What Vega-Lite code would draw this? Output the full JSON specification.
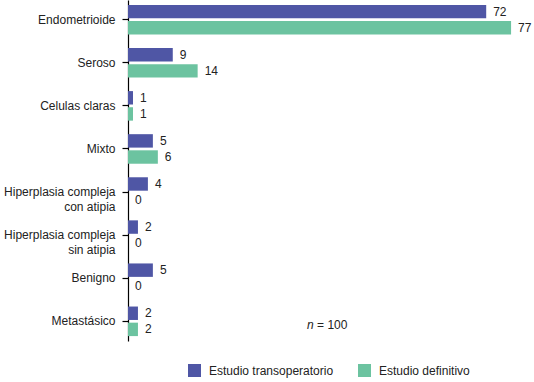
{
  "$schema": "https://vega.github.io/schema/vega-lite/v6.json",
  "width": 398,
  "height": 341,
  "autosize": {"type": "none"},
  "padding": {"left": 128, "top": 0, "right": 8, "bottom": 41},
  "background": "white",
  "config": {
    "view": {"stroke": null},
    "font": "Liberation Sans",
    "text": {"font": "Liberation Sans"}
  },
  "datasets": {
    "main": [
      {"tipo": "Endometrioide", "estudio": "Estudio transoperatorio", "n": 72},
      {"tipo": "Endometrioide", "estudio": "Estudio definitivo", "n": 77},
      {"tipo": "Seroso", "estudio": "Estudio transoperatorio", "n": 9},
      {"tipo": "Seroso", "estudio": "Estudio definitivo", "n": 14},
      {"tipo": "Celulas claras", "estudio": "Estudio transoperatorio", "n": 1},
      {"tipo": "Celulas claras", "estudio": "Estudio definitivo", "n": 1},
      {"tipo": "Mixto", "estudio": "Estudio transoperatorio", "n": 5},
      {"tipo": "Mixto", "estudio": "Estudio definitivo", "n": 6},
      {"tipo": "Hiperplasia compleja con atipia", "estudio": "Estudio transoperatorio", "n": 4},
      {"tipo": "Hiperplasia compleja con atipia", "estudio": "Estudio definitivo", "n": 0},
      {"tipo": "Hiperplasia compleja sin atipia", "estudio": "Estudio transoperatorio", "n": 2},
      {"tipo": "Hiperplasia compleja sin atipia", "estudio": "Estudio definitivo", "n": 0},
      {"tipo": "Benigno", "estudio": "Estudio transoperatorio", "n": 5},
      {"tipo": "Benigno", "estudio": "Estudio definitivo", "n": 0},
      {"tipo": "Metastásico", "estudio": "Estudio transoperatorio", "n": 2},
      {"tipo": "Metastásico", "estudio": "Estudio definitivo", "n": 2}
    ],
    "note": [{"tipo": "Metastásico", "x": 36, "a": "n", "b": "= 100"}]
  },
  "layer": [
    {
      "data": {"name": "main"},
      "mark": {"type": "bar"},
      "encoding": {
        "y": {
          "field": "tipo", "type": "nominal",
          "scale": {"domain": ["Endometrioide", "Seroso", "Celulas claras", "Mixto", "Hiperplasia compleja con atipia", "Hiperplasia compleja sin atipia", "Benigno", "Metastásico"], "paddingInner": 0.314, "paddingOuter": 0.114},
          "axis": {
            "title": null,
            "domainColor": "#000000", "domainWidth": 1.2,
            "tickColor": "#000000", "tickSize": 6, "tickWidth": 1.2,
            "labelPadding": 7, "labelFontSize": 12, "labelColor": "#222222",
            "labelFont": "Liberation Sans", "labelLineHeight": 15,
            "labelExpr": "indexof(datum.label, 'compleja ') > 0 ? ['Hiperplasia compleja', substring(datum.label, 21)] : datum.label"
          }
        },
        "yOffset": {"field": "estudio", "sort": ["Estudio transoperatorio", "Estudio definitivo"], "scale": {"paddingInner": 0.167}},
        "x": {"field": "n", "type": "quantitative", "scale": {"domain": [0, 80]}, "axis": null},
        "color": {
          "field": "estudio", "type": "nominal",
          "scale": {"domain": ["Estudio transoperatorio", "Estudio definitivo"], "range": ["#4f56a5", "#6cc3a0"]},
          "legend": {
            "title": null, "orient": "none", "legendX": 60, "legendY": 364,
            "direction": "horizontal", "symbolType": "square", "symbolSize": 169,
            "symbolStrokeWidth": 0, "labelFontSize": 12, "labelOffset": 8,
            "columnPadding": 24, "padding": 0, "labelColor": "#222222", "labelFont": "Liberation Sans"
          }
        }
      }
    },
    {
      "data": {"name": "main"},
      "mark": {"type": "text", "align": "left", "baseline": "middle", "dx": 7, "fontSize": 12, "color": "#222222"},
      "encoding": {
        "y": {"field": "tipo", "type": "nominal"},
        "yOffset": {"field": "estudio", "sort": ["Estudio transoperatorio", "Estudio definitivo"]},
        "x": {"field": "n", "type": "quantitative"},
        "text": {"field": "n", "type": "quantitative"}
      }
    },
    {
      "data": {"name": "note"},
      "mark": {"type": "text", "align": "left", "baseline": "middle", "dy": 4, "fontSize": 12, "fontStyle": "italic", "color": "#222222"},
      "encoding": {
        "y": {"field": "tipo", "type": "nominal"},
        "x": {"field": "x", "type": "quantitative"},
        "text": {"field": "a"}
      }
    },
    {
      "data": {"name": "note"},
      "mark": {"type": "text", "align": "left", "baseline": "middle", "dy": 4, "dx": 10, "fontSize": 12, "color": "#222222"},
      "encoding": {
        "y": {"field": "tipo", "type": "nominal"},
        "x": {"field": "x", "type": "quantitative"},
        "text": {"field": "b"}
      }
    }
  ]
}
